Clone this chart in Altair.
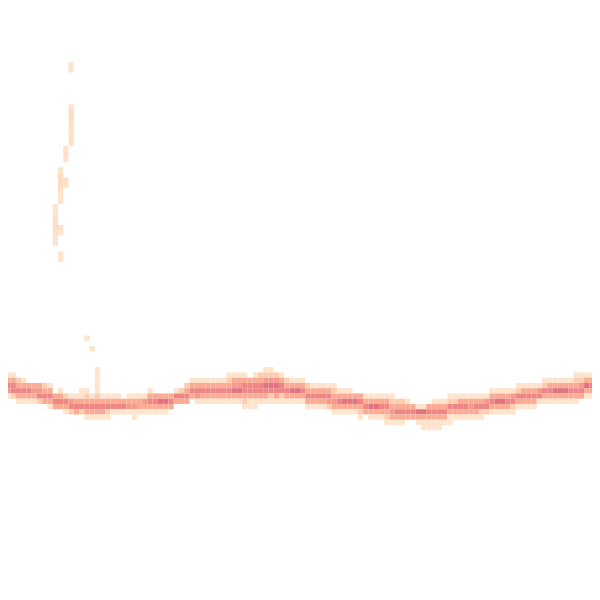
import altair as alt
import pandas as pd

# Band: for each grid column (0..112), the first row of the band and the
# intensity levels (1 = lightest ... 6 = darkest) going downward.
BAND_TOP = [
    69, 70, 70, 71, 71, 72, 72, 72, 72, 72,
    74, 73, 74, 74, 74, 73, 73, 74, 69, 74,
    74, 74, 74, 75, 74, 74, 74, 74, 73, 74,
    74, 74, 74, 73, 73, 72, 71, 71, 71, 71,
    71, 71, 71, 70, 70, 70, 70, 71, 70, 70,
    69, 69, 70, 70, 71, 71, 71, 71, 72, 72,
    72, 72, 72, 72, 73, 73, 73, 74, 74, 74,
    74, 74, 74, 74, 74, 75, 75, 75, 76, 76,
    76, 76, 75, 75, 75, 74, 74, 74, 74, 74,
    74, 74, 74, 73, 73, 73, 73, 73, 72, 72,
    72, 72, 72, 71, 71, 71, 71, 71, 71, 70,
    70, 70, 70,
]
BAND_LEVELS = [
    "12453", "13541", "13552", "23531", "13531", "3531", "3431", "3452", "2353", "13531",
    "353", "1353", "2531", "1452", "1353", "11352", "123531", "13531", "1111123531", "13531",
    "13521", "1351", "1351", "351", "1341", "13411", "1331", "1431", "13531", "3531",
    "3631", "3631", "353", "153", "253", "2353", "1353", "13541", "13531", "13531",
    "13531", "13531", "13531", "123531", "134631", "134631", "1355321", "355311", "1355311", "235531",
    "1246531", "1246521", "246531", "135521", "23531", "13631", "13631", "13531", "23531", "13531",
    "13531", "13531", "13542", "123431", "13531", "13631", "13631", "3631", "35321", "1353",
    "13631", "13631", "13531", "135321", "123431", "23531", "23531", "1353", "353", "1631",
    "16311", "35311", "135311", "135311", "13531", "125311", "12531", "13531", "13531", "13431",
    "13531", "13521", "1452", "13531", "13631", "13631", "13531", "14521", "12531", "13531",
    "13531", "13531", "1451", "12531", "13531", "13631", "13631", "13631", "13531", "123531",
    "12453", "13631", "13531",
]

# Sparse light cells of the thin streak in the upper left
STREAK_COL = [13, 13] + [13] * 8 + [12] * 3 + [11] * 7 + [12, 12] + [10] * 8 + [11, 11] + [11, 11] + [16, 17]
STREAK_ROW = [11, 12] + list(range(19, 27)) + [27, 28, 29] + list(range(31, 38)) + [33, 34] + list(range(38, 46)) + [42, 43] + [47, 48] + [63, 65]
STREAK_LEVEL = [1, 1] + [1, 1.4, 1.4, 1.2, 1.2, 1.2, 1.2, 1] + [1, 1.2, 1] + [1, 1.4, 1.4, 1.4, 1.2, 1, 1] + [1.3, 1] + [1, 1, 1.2, 1.3, 1.3, 1.2, 1, 1] + [1.2, 1] + [1, 1] + [1, 1]

LEVEL_DOMAIN = [1, 2, 3, 4, 5, 6]
LEVEL_COLORS = ["#fee4cc", "#fdcdb0", "#f9ab93", "#f49a8b", "#ee8686", "#e0737f"]

rows = []
for c, (top, lv) in enumerate(zip(BAND_TOP, BAND_LEVELS)):
    for k, ch in enumerate(lv):
        rows.append({"col": c, "row": top + k, "level": float(ch)})
for c, r, v in zip(STREAK_COL, STREAK_ROW, STREAK_LEVEL):
    rows.append({"col": c, "row": r, "level": v})

df = pd.DataFrame(rows)
df["col2"] = df["col"] + 1
df["row2"] = df["row"] + 1

W = 592
H = 592
xdom = [1.5, 1.5 + W * 3 / 16]
ydom = [1.5, 1.5 + H * 3 / 16]

chart = (
    alt.Chart(df)
    .mark_rect(clip=True, strokeWidth=0)
    .encode(
        x=alt.X("col:Q", scale=alt.Scale(domain=xdom, nice=False, zero=False), axis=None),
        x2="col2:Q",
        y=alt.Y("row:Q", scale=alt.Scale(domain=ydom, nice=False, zero=False, reverse=True), axis=None),
        y2="row2:Q",
        color=alt.Color(
            "level:Q",
            scale=alt.Scale(domain=LEVEL_DOMAIN, range=LEVEL_COLORS),
            legend=None,
        ),
    )
    .properties(width=W, height=H, padding=0, autosize="none")
    .configure_view(stroke=None)
)

chart.save("out.html", embed_options={"renderer": "svg", "actions": False})
